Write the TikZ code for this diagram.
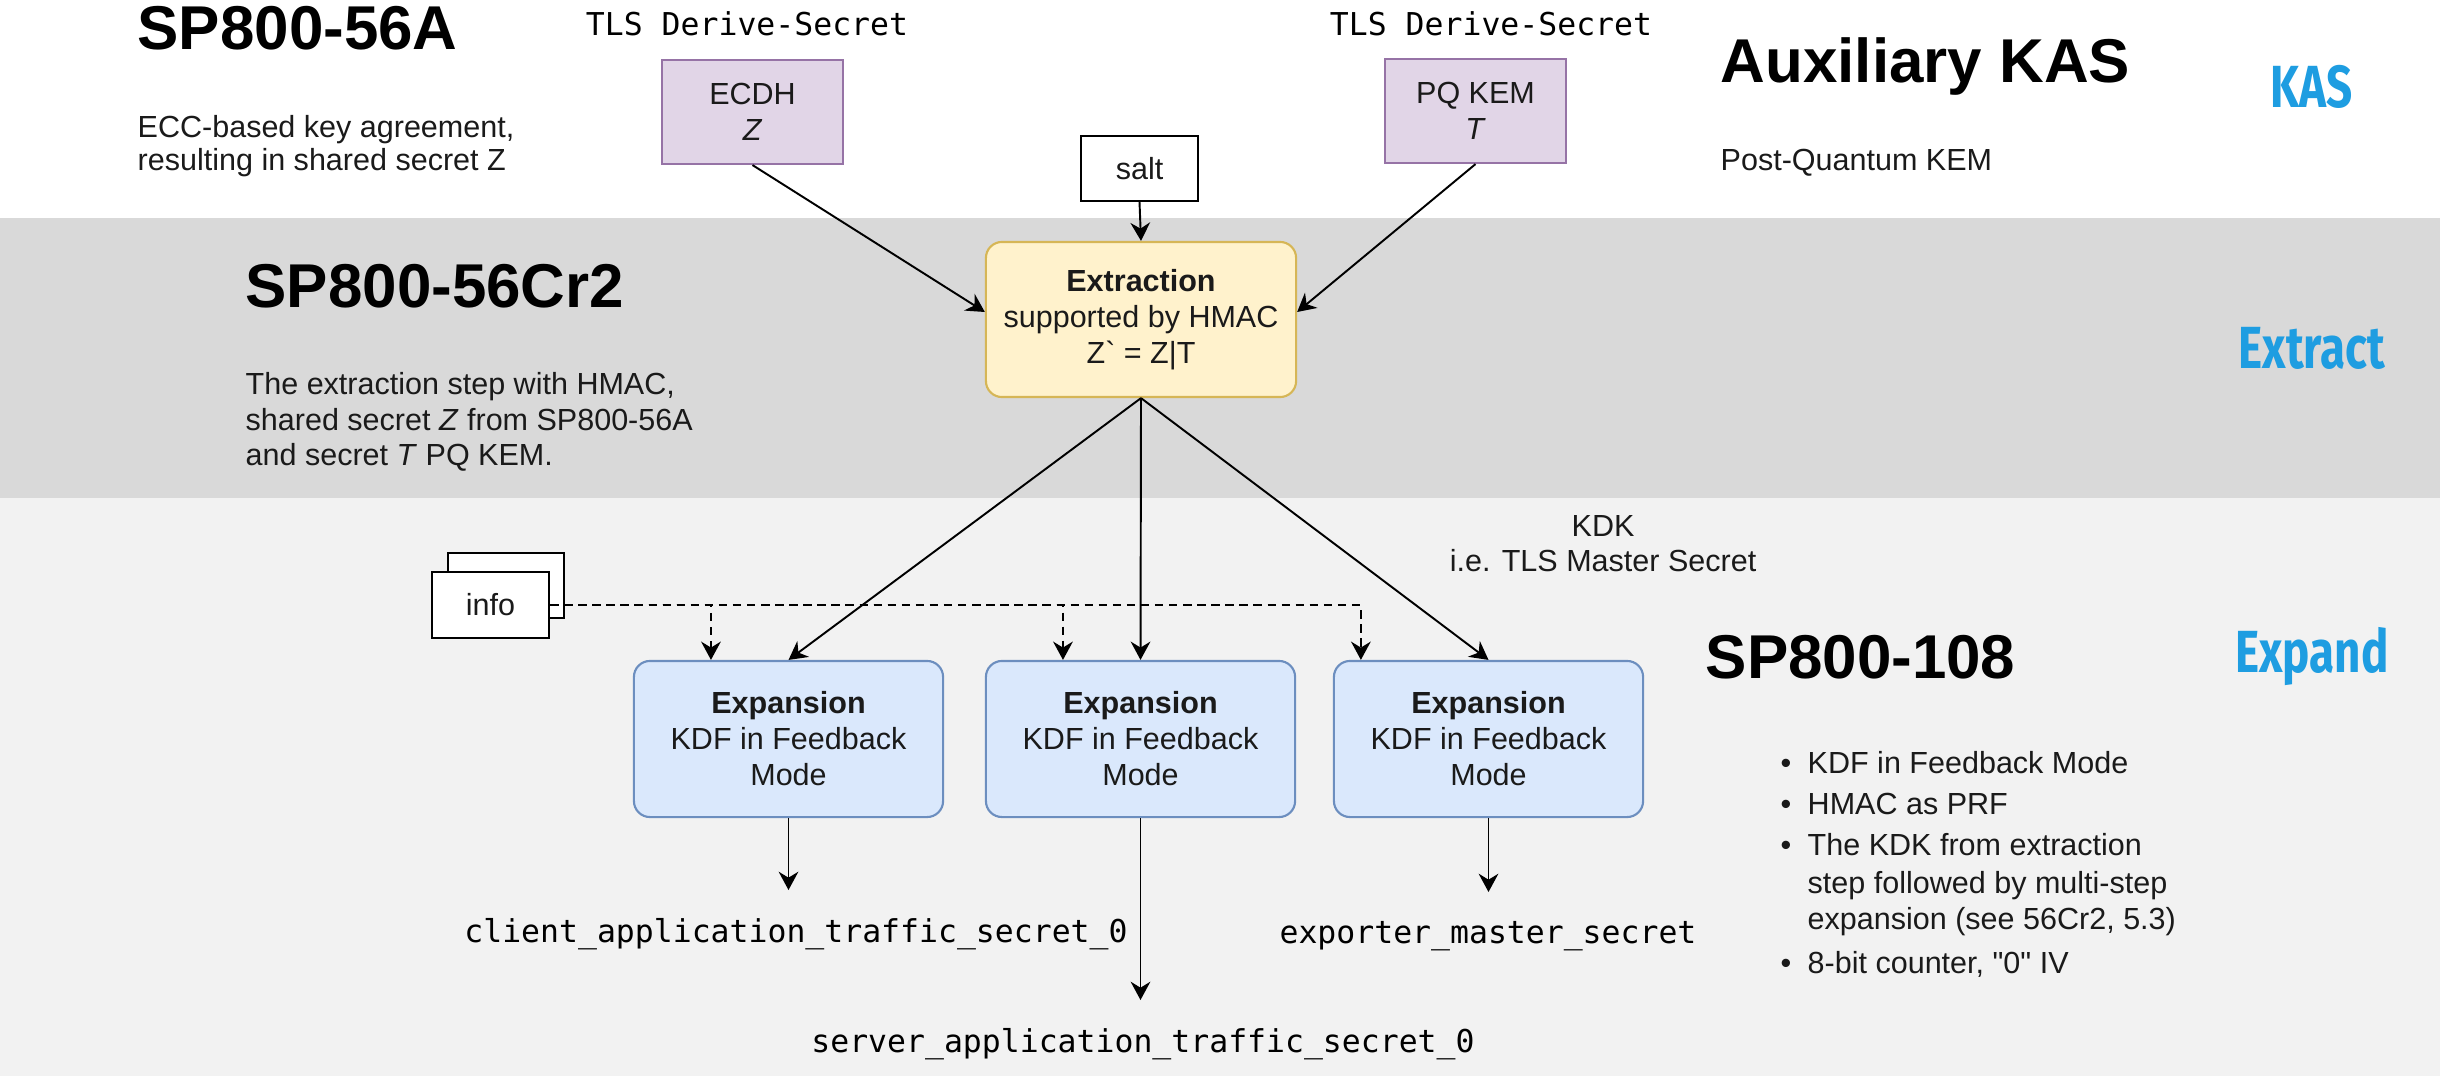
\documentclass[tikz,border=0pt]{standalone}
\usepackage{fontspec}
\usepackage{graphicx}
\setmainfont{Liberation Sans}
\setmonofont{DejaVu Sans Mono}
\newfontfamily\dgbluefamily{Fira Sans}
\usetikzlibrary{arrows.meta,calc}
\definecolor{bandgray}{HTML}{D9D9D9}
\definecolor{bandlight}{HTML}{F2F2F2}
\definecolor{purplefill}{HTML}{E1D5E7}
\definecolor{purpleline}{HTML}{9673A6}
\definecolor{yellowfill}{HTML}{FFF2CC}
\definecolor{yellowline}{HTML}{D6B656}
\definecolor{bluefill}{HTML}{DAE8FC}
\definecolor{blueline}{HTML}{6C8EBF}
\definecolor{labelblue}{HTML}{1E9DE1}
\definecolor{bodytext}{HTML}{1A1A1A}
\newcommand\dgbody{\fontsize{8.68pt}{10.24pt}\selectfont}
\newcommand\dgtitle{\fontsize{17.6pt}{20pt}\selectfont\bfseries}
\newcommand\dgmono{\fontsize{8.95pt}{10.24pt}\selectfont\ttfamily}
\newcommand\dgstage{\dgbluefamily\fontsize{16.9pt}{18pt}\selectfont\bfseries}
\newcommand\dgstraightquotes[1]{{\addfontfeatures{Ligatures=TeXOff}#1}}
\begin{document}
\begin{tikzpicture}[x=0.01cm,y=-0.01cm,
  >={Stealth[length=5.2pt,width=5.6pt,inset=1.7pt]},
  conn/.style={draw=black,line width=0.55pt,->},
  dconn/.style={draw=black,line width=0.6pt,->,dash pattern=on 2.4pt off 1.6pt},
  txt/.style={inner sep=0pt,font=\dgbody,text=bodytext},
  monotxt/.style={inner sep=0pt,font=\dgmono,text=black},
  titletxt/.style={inner sep=0pt,font=\dgtitle,text=black},
  stagetxt/.style={inner sep=0pt,font=\dgstage,text=labelblue},
  kasbox/.style={draw=purpleline,fill=purplefill,line width=0.6pt,minimum width=1.81cm,minimum height=1.04cm,align=center,font=\dgbody,text=bodytext,inner sep=0pt},
  plainbox/.style={draw=black,fill=white,line width=0.6pt,align=center,font=\dgbody,text=bodytext,inner sep=0pt},
  extbox/.style={draw=yellowline,fill=yellowfill,line width=0.6pt,rounded corners=0.16cm,minimum width=3.1cm,minimum height=1.55cm,align=center,font=\dgbody,text=bodytext,inner sep=0pt},
  expbox/.style={draw=blueline,fill=bluefill,line width=0.6pt,rounded corners=0.16cm,minimum width=3.09cm,minimum height=1.56cm,align=center,font=\dgbody,text=bodytext,inner sep=0pt}
]
% bands
\fill[white] (0,0) rectangle (2440,218);
\fill[bandgray] (0,218) rectangle (2440,498);
\fill[bandlight] (0,498) rectangle (2440,1076);
\useasboundingbox (0,0) rectangle (2440,1076);

% KAS row
\node[titletxt,anchor=base west] (t56a) at (137,50) {SP800-56A};
\node[txt,anchor=base west] (d56a1) at (137,137) {ECC-based key agreement,};
\node[txt,anchor=base west] (d56a2) at (137,170) {resulting in shared secret Z};
\node[monotxt,anchor=base] (tlsl) at (747,36) {TLS Derive-Secret};
\node[monotxt,anchor=base] (tlsr) at (1491,36) {TLS Derive-Secret};
\node[kasbox] (ecdh) at (752.5,112) {ECDH\\\textit{Z}};
\node[kasbox] (pq) at (1475.5,111) {PQ KEM\\\textit{T}};
\node[titletxt,anchor=base west] (taux) at (1720,83) {Auxiliary KAS};
\node[txt,anchor=base west] (daux) at (1720,171) {Post-Quantum KEM};
\node[stagetxt,anchor=base] (skas) at (2312,108) {\scalebox{0.77}[1]{KAS}};
\node[plainbox,minimum width=1.17cm,minimum height=0.65cm] (salt) at (1139.5,168.5) {salt};

% Extract row
\node[titletxt,anchor=base west] (t56c) at (245,307) {SP800-56Cr2};
\node[txt,anchor=base west] (d56c1) at (245,394) {The extraction step with HMAC,};
\node[txt,anchor=base west] (d56c2) at (245,430) {shared secret \textit{Z} from SP800-56A};
\node[txt,anchor=base west] (d56c3) at (245,465) {and secret \textit{T} PQ KEM.};
\node[extbox] (ext) at (1141,319.5) {\textbf{Extraction}\\supported by HMAC\\Z\textasciigrave{} = Z|T};
\node[stagetxt,anchor=base] (sext) at (2312,368) {\scalebox{0.77}[1]{Extract}};

% Expand row
\node[txt,anchor=base] (kdk1) at (1603,536) {KDK};
\node[txt,anchor=base] (kdk2) at (1603,571) {i.e. TLS Master Secret};
\node[plainbox,minimum width=1.16cm,minimum height=0.65cm] (infoback) at (506,585.5) {};
\node[plainbox,minimum width=1.17cm,minimum height=0.66cm] (info) at (490.5,605) {info};
\node[expbox] (e1) at (788.5,739) {\textbf{Expansion}\\KDF in Feedback\\Mode};
\node[expbox] (e2) at (1140.5,739) {\textbf{Expansion}\\KDF in Feedback\\Mode};
\node[expbox] (e3) at (1488.5,739) {\textbf{Expansion}\\KDF in Feedback\\Mode};
\node[titletxt,anchor=base west] (t108) at (1705,678) {SP800-108};
\node[stagetxt,anchor=base] (sexp) at (2312,672) {\scalebox{0.77}[1]{Expand}};

\node[txt,anchor=base] (b1) at (1786,773) {\textbullet};
\node[txt,anchor=base west] (l1) at (1807,773) {KDF in Feedback Mode};
\node[txt,anchor=base] (b2) at (1786,814) {\textbullet};
\node[txt,anchor=base west] (l2) at (1807,814) {HMAC as PRF};
\node[txt,anchor=base] (b3) at (1786,855) {\textbullet};
\node[txt,anchor=base west] (l3) at (1807,855) {The KDK from extraction};
\node[txt,anchor=base west] (l4) at (1807,893) {step followed by multi-step};
\node[txt,anchor=base west] (l5) at (1807,929) {expansion (see 56Cr2, 5.3)};
\node[txt,anchor=base] (b4) at (1786,973) {\textbullet};
\node[txt,anchor=base west] (l6) at (1807,973) {8-bit counter, \dgstraightquotes{"0"} IV};

\node[monotxt,anchor=base] (client) at (796,942) {client\_application\_traffic\_secret\_0};
\node[monotxt,anchor=base] (exporter) at (1488,943) {exporter\_master\_secret};
\node[monotxt,anchor=base] (server) at (1143,1052) {server\_application\_traffic\_secret\_0};
\coordinate (o1) at (788.5,890);
\coordinate (o2) at (1140.5,1000);
\coordinate (o3) at (1488.5,892);

% connectors
\draw[conn] (ecdh.south) -- ([yshift=0.075cm]ext.west);
\draw[conn] (pq.south) -- ([yshift=0.075cm]ext.east);
\draw[conn] (salt.south) -- (ext.north);
\draw[conn] (ext.south) -- (e1.north);
\draw[conn] (ext.south) -- (e2.north);
\draw[conn] (ext.south) -- (e3.north);
\draw[dconn] (info.east) -| ([xshift=-0.775cm]e1.north);
\draw[dconn] (info.east) -| ([xshift=-0.775cm]e2.north);
\draw[dconn] (info.east) -| ([xshift=0.28cm]e3.north west);
\draw[conn] (e1.south) -- (o1);
\draw[conn] (e2.south) -- (o2);
\draw[conn] (e3.south) -- (o3);
\end{tikzpicture}
\end{document}
